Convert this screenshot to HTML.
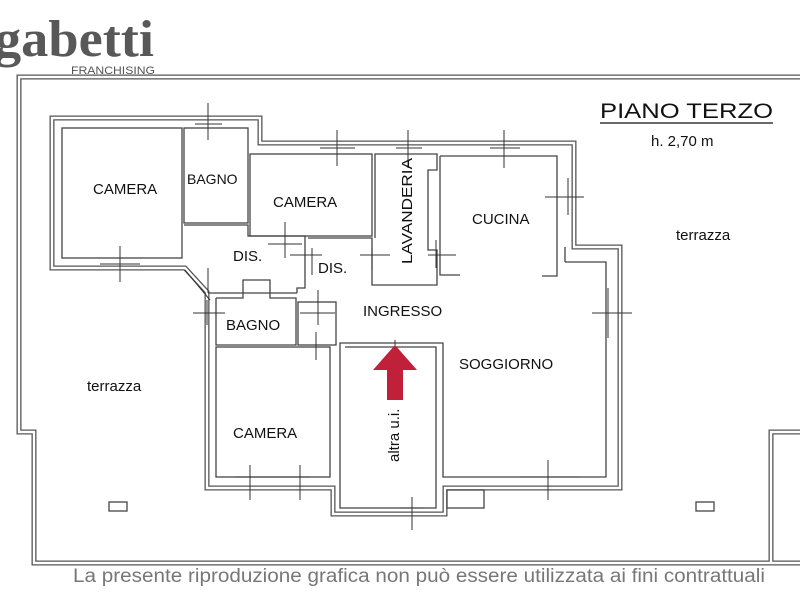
<!DOCTYPE html>
<html><head><meta charset="utf-8"><style>
html,body{margin:0;padding:0;background:#fff;width:800px;height:600px;overflow:hidden}
svg{display:block}
.w{fill:none;stroke:#555;stroke-width:5;stroke-linejoin:miter}
.wi{fill:none;stroke:#fff;stroke-width:2.4;stroke-linejoin:miter}
.t{fill:none;stroke:#444;stroke-width:1.3}
.c{stroke:#333;stroke-width:1;fill:none}
text{font-family:"Liberation Sans",sans-serif;fill:#111}
</style></head><body>
<svg width="800" height="600" viewBox="0 0 800 600" xmlns="http://www.w3.org/2000/svg">
<!-- terrace boundary -->
<g class="w"><path d="M800 77 L19 77 L19 432 L34 432 L34 563 L800 563 M800 432 L771 432 L771 563"/></g>
<g class="wi"><path d="M800 77 L19 77 L19 432 L34 432 L34 563 L800 563 M800 432 L771 432 L771 563"/></g>

<!-- apartment external walls -->
<g class="w"><path d="M52 118 L260 118 L260 143 L574 143 L574 247 L620 247 L620 488 L445 488 L445 514 L333 514 L333 488 L207 488 L207 292 L185 268 L52 268 Z"/></g>
<g class="wi"><path d="M52 118 L260 118 L260 143 L574 143 L574 247 L620 247 L620 488 L445 488 L445 514 L333 514 L333 488 L207 488 L207 292 L185 268 L52 268 Z"/></g>

<!-- interior walls -->
<g class="t">
<rect x="62" y="128" width="120" height="130"/>
<rect x="184" y="128" width="64" height="95"/>
<rect x="250" y="154" width="122" height="82"/>
<path d="M184 225 L248 225 L248 236 L305 236 L305 288 L297 288 L297 293"/>
<path d="M308 238 L372 238 L372 285 L437 285 L437 250 L428 250 L428 170 L437 170 L437 154 L375 154 L375 238"/>
<path d="M440 156 L557 156 L557 276 L542 276"/>
<path d="M440 156 L440 275 L460 275"/>
<path d="M565 262 L606 262 L606 477 L443 477 L443 343 L340 343 L340 508 L436 508 L436 347 L345 347"/>
<path d="M216 298 L216 345 L296 345 L296 298 L270 298 L270 280 L243 280 L243 298 L216 298"/>
<rect x="298" y="302" width="38" height="43"/>
<rect x="216" y="347" width="114" height="130"/>
<rect x="447" y="490" width="37" height="18"/>
<rect x="109" y="502" width="18" height="9"/>
<rect x="696" y="502" width="18" height="9"/>
<path d="M565 262 L565 247 M297 293 L208 293"/>
</g>
<!-- window/door crosses -->
<g class="c">
<path d="M208 103 V140 M195 124 H222"/>
<path d="M337 130 V166 M320 148 H355"/>
<path d="M504 130 V168 M490 148 H520"/>
<path d="M408 130 V168 M396 148 H422"/>
<path d="M568 178 V215 M545 197 H584"/>
<path d="M608 288 V338 M592 313 H632"/>
<path d="M120 246 V282 M100 264 H140"/>
<path d="M208 268 V293 M185 270 L210 300"/>
<path d="M285 222 V258 M268 244 H302"/>
<path d="M312 248 V275 M290 255 H322"/>
<path d="M372 248 V270 M360 255 H390"/>
<path d="M436 240 V268 M428 255 H456"/>
<path d="M207 300 V325 M193 313 H225"/>
<path d="M318 290 V325 M300 313 H335"/>
<path d="M316 332 V360"/>
<path d="M250 465 V500 M300 465 V500 M235 477 H310"/>
<path d="M548 460 V500 M520 477 H580"/>
<path d="M412 497 V530 M400 508 H424"/>
<path d="M395 340 V352"/>
</g>

<!-- red arrow -->
<path d="M387 400 L387 370 L373 370 L395 345 L417 370 L403 370 L403 400 Z" fill="#c1203a"/>

<!-- logo -->
<text x="-6" y="56" style="font-family:'Liberation Serif',serif;font-weight:bold;font-size:52px;fill:#585858" textLength="160" lengthAdjust="spacingAndGlyphs">gabetti</text>
<text x="71" y="74" style="font-size:11px;fill:#555" textLength="84" lengthAdjust="spacingAndGlyphs">FRANCHISING</text>

<!-- title -->
<text x="600" y="118" style="font-size:21px" textLength="173" lengthAdjust="spacingAndGlyphs">PIANO TERZO</text>
<line x1="600" y1="123" x2="773" y2="123" stroke="#111" stroke-width="1.3"/>
<text x="651" y="146" style="font-size:15px">h. 2,70 m</text>

<!-- labels -->
<g style="font-size:15px">
<text x="93" y="194">CAMERA</text>
<text x="187" y="184" style="font-size:14px">BAGNO</text>
<text x="273" y="207">CAMERA</text>
<text x="233" y="261">DIS.</text>
<text x="318" y="273">DIS.</text>
<text x="472" y="224">CUCINA</text>
<text x="363" y="316">INGRESSO</text>
<text x="226" y="330">BAGNO</text>
<text x="459" y="369">SOGGIORNO</text>
<text x="233" y="438">CAMERA</text>
<text x="676" y="240">terrazza</text>
<text x="87" y="391">terrazza</text>
<text transform="translate(412,264) rotate(-90)" x="0" y="0" textLength="106" lengthAdjust="spacingAndGlyphs">LAVANDERIA</text>
<text transform="translate(399,462) rotate(-90)" x="0" y="0">altra u.i.</text>
</g>

<!-- footer -->
<text x="73" y="582" style="font-size:19px;fill:#777" textLength="692" lengthAdjust="spacingAndGlyphs">La presente riproduzione grafica non può essere utilizzata ai fini contrattuali</text>
</svg>
</body></html>
